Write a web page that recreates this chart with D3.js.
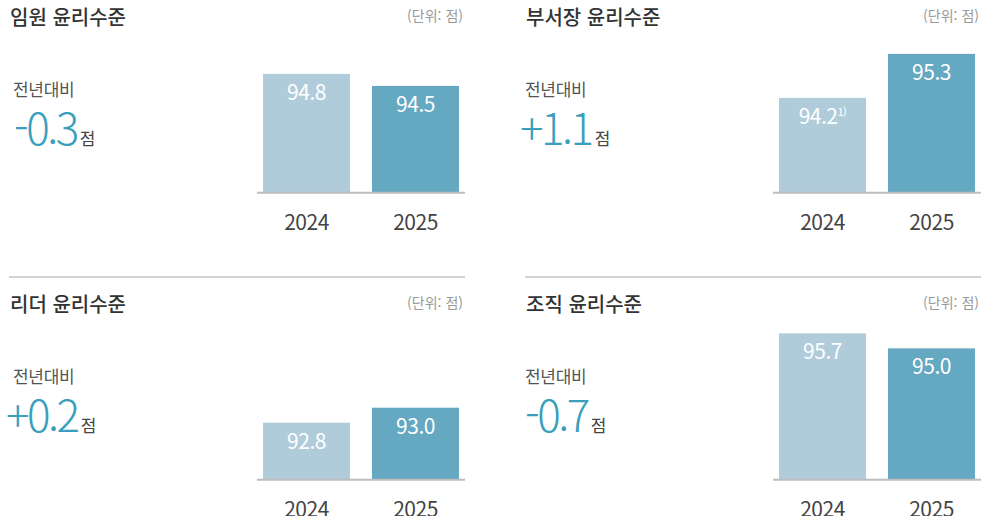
<!DOCTYPE html>
<html lang="ko">
<head>
<meta charset="utf-8">
<script src="https://cdn.jsdelivr.net/npm/d3@7"></script>
<style>
  html, body { margin: 0; padding: 0; background: #fff; }
  svg { display: block; font-family: "Noto Sans CJK KR", "Noto Sans", sans-serif; }
</style>
</head>
<body>
<svg id="chart" width="982" height="516"></svg>
<script>
// Ethics level scores per group, 2024 vs 2025
const titles = ["임원 윤리수준", "부서장 윤리수준", "리더 윤리수준", "조직 윤리수준"];
const years = ["2024", "2025"];
const scores2024 = [94.8, 94.2, 92.8, 95.7];
const scores2025 = [94.5, 95.3, 93.0, 95.0];
const changeLabels = ["-0.3", "+1.1", "+0.2", "-0.7"];
const footnotes = ["", "1)", "", ""];
const unitLabel = "(단위: 점)";
const compareLabel = "전년대비";
const pointUnit = "점";

// value-axis domain for each panel (lower bound sits on the baseline)
const yDomains = [[91.83, 95.58], [91.83, 95.58], [92.04, 94.04], [88.87, 95.87]];

const svg = d3.select("#chart");
const panelOrigins = [[0, 0], [516, 0], [0, 287], [516, 287]];
const bigX = [14, 4, 6, 9];
const compareX = [13, 9, 13, 9];
const barColors = ["#b0ccda", "#64a8c2"];
const baseY = 192.7;
const plotH = 150;

const x = d3.scaleBand().domain(years).range([263, 459]).paddingInner(22 / 109).paddingOuter(0);

titles.forEach((title, i) => {
  const [ox, oy] = panelOrigins[i];
  const g = svg.append("g").attr("transform", `translate(${ox},${oy})`);
  const values = [scores2024[i], scores2025[i]];
  const y = d3.scaleLinear().domain(yDomains[i]).range([baseY, baseY - plotH]);

  // separator above the lower row
  if (i >= 2) {
    g.append("line")
      .attr("x1", 9).attr("x2", 465)
      .attr("y1", -10).attr("y2", -10)
      .attr("stroke", "#c4c4c4").attr("stroke-width", 1.5);
  }

  g.append("text")
    .attr("x", 10).attr("y", 25)
    .attr("fill", "#333").attr("font-size", 20).attr("font-weight", 500)
    .text(title);

  g.append("text")
    .attr("x", 463).attr("y", 21).attr("text-anchor", "end")
    .attr("fill", "#9a9a9a").attr("font-size", 14)
    .text(unitLabel);

  g.append("text")
    .attr("x", compareX[i]).attr("y", 96)
    .attr("fill", "#555").attr("font-size", 17)
    .attr("letter-spacing", -0.3)
    .text(compareLabel);

  const big = g.append("text")
    .attr("x", bigX[i]).attr("y", 145);
  big.append("tspan")
    .attr("fill", "#3a9ebd").attr("font-size", 44).attr("font-weight", 300)
    .attr("letter-spacing", -2.5)
    .text(changeLabels[i]);
  big.append("tspan")
    .attr("fill", "#444").attr("font-size", 17).attr("dx", 3)
    .text(pointUnit);

  // bars
  g.selectAll("rect.bar").data(values).join("rect")
    .attr("class", "bar")
    .attr("x", (d, j) => x(years[j]))
    .attr("width", x.bandwidth())
    .attr("y", d => y(d))
    .attr("height", d => baseY - y(d))
    .attr("fill", (d, j) => barColors[j]);

  // baseline axis
  const axis = g.append("g").attr("transform", `translate(0,${baseY})`)
    .call(d3.axisBottom(x).tickSize(0).tickPadding(0));
  axis.select(".domain").remove();
  axis.append("line").attr("x1", 257).attr("x2", 465)
    .attr("stroke", "#bdbdbd").attr("stroke-width", 2);
  axis.selectAll(".tick text")
    .attr("y", 37).attr("dy", 0)
    .attr("fill", "#444").attr("font-size", 21)
    .attr("font-family", "\"Noto Sans CJK KR\", sans-serif")
    .attr("letter-spacing", -0.5);

  // value labels inside the bars
  g.selectAll("text.val").data(values).join("text")
    .attr("class", "val")
    .attr("x", (d, j) => x(years[j]) + x.bandwidth() / 2)
    .attr("y", d => y(d) + 26)
    .attr("text-anchor", "middle")
    .attr("fill", "#fff").attr("font-size", 21).attr("letter-spacing", -0.5)
    .each(function (d, j) {
      const t = d3.select(this);
      t.append("tspan").text(d.toFixed(1));
      if (j === 0 && footnotes[i]) {
        t.append("tspan").attr("font-size", 11).attr("dy", -8).text(footnotes[i]);
      }
    });
});
</script>
</body>
</html>
